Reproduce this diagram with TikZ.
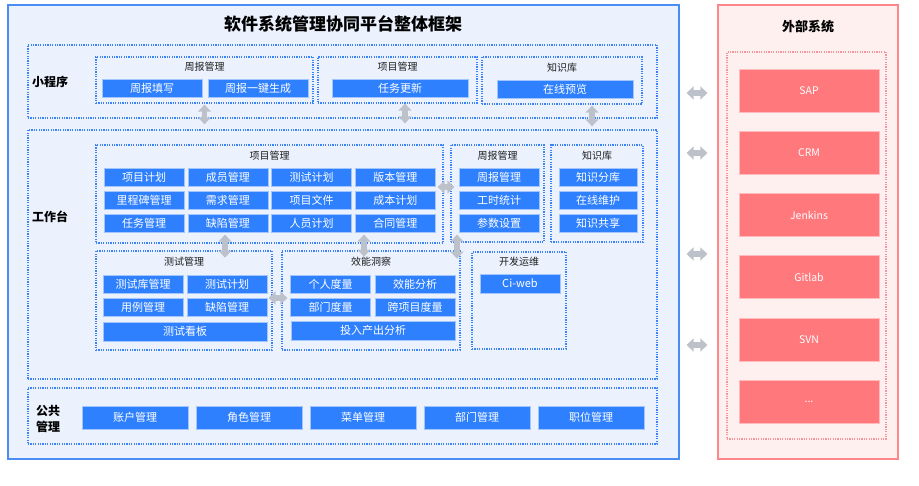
\documentclass[tikz,border=0pt]{standalone}
\usepackage{fontspec}
\setmainfont{Noto Sans CJK SC}
\usetikzlibrary{calc,arrows.meta}
\definecolor{frameblue}{HTML}{4A8CF6}
\definecolor{bgblue}{HTML}{EBF2FE}
\definecolor{dotblue}{HTML}{3A82F5}
\definecolor{btnblue}{HTML}{2F80FF}
\definecolor{framered}{HTML}{FF868A}
\definecolor{bgred}{HTML}{FFF0F0}
\definecolor{dotred}{HTML}{F7939A}
\definecolor{btnred}{HTML}{FF787C}
\definecolor{arrgray}{HTML}{BDC2CA}
\definecolor{txtdark}{HTML}{1E1E1E}
\tikzset{
  >={Triangle},
  box/.style 2 args={minimum width=#1pt, minimum height=#2pt, inner sep=0pt},
  frame/.style={draw=#1, line width=1.2pt},
  group/.style={draw=#1, line width=1.3pt, dash pattern=on 1.2pt off 1.2pt},
  btn/.style 2 args={box={#1}{#2}, fill=btnblue, draw=white!55!btnblue, line width=.5pt,
    text=white, font=\fontsize{11}{11}\selectfont},
  redbtn/.style={box={140}{43}, fill=btnred, draw=white!50!btnred, line width=.5pt,
    text=white, font=\fontsize{10.5}{10.5}\selectfont},
  subtitle/.style={text=txtdark, inner sep=0pt, font=\fontsize{10}{10}\selectfont},
  sidelabel/.style={text=black, inner sep=0pt, align=center, font=\bfseries\fontsize{12}{16}\selectfont},
  dbl/.style={draw=arrgray, line width=5.5pt,
    {Triangle[width=13pt 0,length=7pt 0]}-{Triangle[width=13pt 0,length=7pt 0]}}
}
\begin{document}
\begin{tikzpicture}[x=1pt,y=-1pt]
  \useasboundingbox (0,0) rectangle (919,486);
  % frames
  \node[frame=frameblue, fill=bgblue, box={671}{454}] (main) at (343.5,232) {};
  \node[frame=framered, fill=bgred, box={180}{454}] (ext) at (808,232) {};
  \node[text=black, inner sep=0pt, font=\bfseries\fontsize{17}{17}\selectfont] (title) at (343,24) {软件系统管理协同平台整体框架};
  \node[text=black, inner sep=0pt, font=\bfseries\fontsize{13}{13}\selectfont] (ext-t) at (808,27) {外部系统};
  % external systems
  \node[group=dotred, box={159}{387}] (ext-in) at (806.5,245.5) {};
  \foreach \name [count=\i from 0] in {SAP,CRM,Jenkins,Gitlab,SVN}
    \node[redbtn] (ext-\i) at (809,90.5+62.2*\i) {\name};
  \node[redbtn] (ext-5) at (809,401.5) {...};

  % mini program
  \node[group=dotblue, box={629}{73}] (mp) at (342.5,81.5) {};
  \node[sidelabel] (mp-l) at (50,82) {小程序};
  \node[group=dotblue, box={217}{46}] (mp-zb) at (204.5,80) {};
  \node[subtitle] (mp-zb-t) at (204.5,67) {周报管理};
  \node[btn={100}{18}] (mp-zb1) at (152,88) {周报填写};
  \node[btn={100}{18}] (mp-zb2) at (258,88) {周报一键生成};
  \node[group=dotblue, box={159}{46}] (mp-xm) at (397.5,80) {};
  \node[subtitle] (mp-xm-t) at (397.5,67) {项目管理};
  \node[btn={136}{18}] (mp-xm1) at (400,88) {任务更新};
  \node[group=dotblue, box={160}{47}] (mp-zs) at (562,80.5) {};
  \node[subtitle] (mp-zs-t) at (562,68) {知识库};
  \node[btn={136}{18}] (mp-zs1) at (565,89) {在线预览};

  % workbench
  \node[group=dotblue, box={629}{249}] (wt) at (342.5,254.5) {};
  \node[sidelabel] (wt-l) at (50,217) {工作台};
  \node[group=dotblue, box={347}{98}] (wt-xm) at (269.5,194) {};
  \node[subtitle] (wt-xm-t) at (269.5,156) {项目管理};
  \foreach \txt [count=\i from 0] in {项目计划,成员管理,测试计划,版本管理,里程碑管理,需求管理,
      项目文件,成本计划,任务管理,缺陷管理,人员计划,合同管理}{
    \pgfmathtruncatemacro\c{mod(\i,4)}
    \pgfmathtruncatemacro\r{\i/4}
    \node[btn={80}{18}] (wt-xm-\i) at (144+83.8*\c,177+23*\r) {\txt};
  }
  \node[group=dotblue, box={93}{97}] (wt-zb) at (497.5,193.5) {};
  \node[subtitle] (wt-zb-t) at (497.5,156) {周报管理};
  \node[group=dotblue, box={92}{97}] (wt-zs) at (597,193.5) {};
  \node[subtitle] (wt-zs-t) at (597,156) {知识库};
  \foreach \txta/\txtb [count=\i from 0] in {周报管理/知识分库,工时统计/在线维护,参数设置/知识共享}{
    \node[btn={80}{18}] (wt-zb-\i) at (499,177+23*\i) {\txta};
    \node[btn={78}{18}] (wt-zs-\i) at (598,177+23*\i) {\txtb};
  }
  \node[group=dotblue, box={176}{99}] (wt-cs) at (184,300.5) {};
  \node[subtitle] (wt-cs-t) at (184,262) {测试管理};
  \node[btn={80}{18}] (wt-cs-0) at (143,284) {测试库管理};
  \node[btn={80}{18}] (wt-cs-1) at (227,284) {测试计划};
  \node[btn={80}{18}] (wt-cs-2) at (143,307.5) {用例管理};
  \node[btn={80}{18}] (wt-cs-3) at (227,307.5) {缺陷管理};
  \node[btn={164}{19}] (wt-cs-4) at (185,331.5) {测试看板};
  \node[group=dotblue, box={178}{99}] (wt-xn) at (371,300.5) {};
  \node[subtitle] (wt-xn-t) at (371,262) {效能洞察};
  \node[btn={80}{18}] (wt-xn-0) at (330.5,284) {个人度量};
  \node[btn={80}{18}] (wt-xn-1) at (415,284) {效能分析};
  \node[btn={80}{18}] (wt-xn-2) at (330.5,307) {部门度量};
  \node[btn={80}{18}] (wt-xn-3) at (415,307) {跨项目度量};
  \node[btn={164}{19}] (wt-xn-4) at (373,330.5) {投入产出分析};
  \node[group=dotblue, box={94}{97}] (wt-kf) at (519,300.5) {};
  \node[subtitle] (wt-kf-t) at (519,262) {开发运维};
  \node[btn={80}{19}] (wt-kf-0) at (520,283.5) {Ci-web};

  % common management
  \node[group=dotblue, box={629}{56}] (gg) at (342.5,416) {};
  \node[sidelabel] (gg-l) at (48,419) {公共\\管理};
  \foreach \txt [count=\i from 0] in {账户管理,角色管理,菜单管理,部门管理,职位管理}
    \node[btn={106}{23}] (gg-\i) at (135+114*\i,417.5) {\txt};

  % links
  \draw[dbl] ($(mp-zb.south)+(0,1)$) -- ($(mp-zb.south|-wt.north)+(0,-5)$);
  \draw[dbl] ($(mp-xm.south)+(7.5,0)$) -- ($(mp-xm.south|-wt.north)+(7.5,-6)$);
  \draw[dbl] ($(mp-zs.south)+(30,1)$) -- ($(mp-zs.south|-wt.north)+(30,-3)$);
  \draw[dbl] ($(wt-xm.east)+(-6,-7)$) -- ($(wt-zb.west)+(4,-6.5)$);
  \draw[dbl] ($(wt-xm.south)+(-44.5,-9)$) -- ($(wt-xm.south)+(-44.5,14)$);
  \draw[dbl] ($(wt-xm.south)+(94.5,-9)$) -- ($(wt-xm.south)+(94.5,13)$);
  \draw[dbl] ($(wt-zb.south)+(-40.5,-8)$) -- ($(wt-zb.south)+(-40.5,16)$);
  \draw[dbl] ($(wt-cs.east)+(-4,-2.5)$) -- ($(wt-xn.west)+(6,-2.5)$);
  \foreach \y in {93,153,254,345}
    \draw[dbl] ($(main.east|-0,\y)+(7,0)$) -- ($(ext.west|-0,\y)+(-10,0)$);
\end{tikzpicture}
\end{document}
